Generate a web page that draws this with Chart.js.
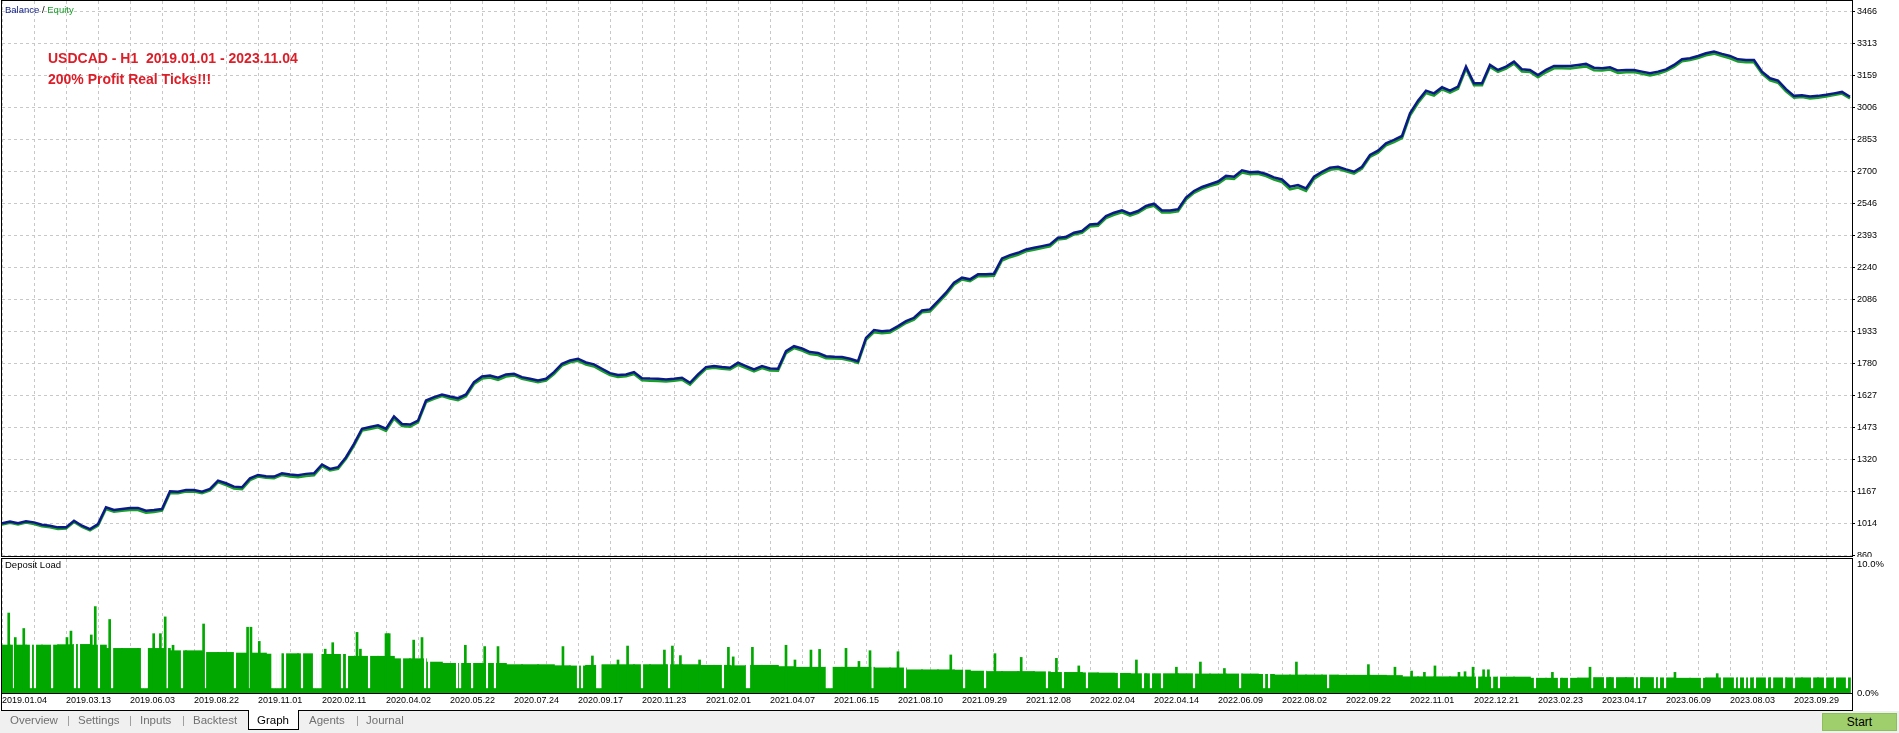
<!DOCTYPE html>
<html>
<head>
<meta charset="utf-8">
<script src="https://cdn.jsdelivr.net/npm/chart.js@4.4.0/dist/chart.umd.min.js"></script>
<style>
body { margin:0; width:1899px; height:733px; overflow:hidden; background:#f0f0f0; position:relative;
       font-family:"Liberation Sans", Arial, sans-serif; }
#plot { position:absolute; left:0; top:0; width:1899px; height:711px; background:#fff; }
#balanceChart { position:absolute; left:0; top:0; }
#loadChart { position:absolute; left:0; top:557px; }
.txt { position:absolute; white-space:nowrap; }
#legend { left:5px; top:4px; font-size:9.5px; line-height:12px; }
#title { left:48px; top:48px; font-size:14px; line-height:21px; font-weight:bold; color:#dc1e28; }
#loadName { left:5px; top:559px; font-size:9.5px; line-height:12px; color:#000; }
.tab { position:absolute; top:712px; font-size:11.5px; line-height:16px; color:#707070; }
.sep { position:absolute; top:712px; font-size:11.5px; line-height:16px; color:#9a9a9a; }
#graphTab { position:absolute; left:248px; top:710px; width:49px; height:19px; background:#fff;
            border:1px solid #000; border-top:none; }
#start { position:absolute; left:1822px; top:713px; width:73px; height:16px; background:#9fcf6c;
         border:1px solid #8cbf5a; font-size:12px; line-height:16px; text-align:center; color:#000; }
</style>
</head>
<body>
<div id="plot">
  <canvas id="balanceChart" width="1899" height="557"></canvas>
  <canvas id="loadChart" width="1899" height="154"></canvas>
  <div class="txt" id="legend"><span style="color:#0b1a86">Balance</span> / <span style="color:#1a9e2a">Equity</span></div>
  <div class="txt" id="title">USDCAD - H1&nbsp; 2019.01.01 - 2023.11.04<br>200% Profit Real Ticks!!!</div>
  <div class="txt" id="loadName">Deposit Load</div>
</div>
<div id="graphTab"></div>
<span class="tab" style="left:10px">Overview</span>
<span class="sep" style="left:67px">|</span>
<span class="tab" style="left:78px">Settings</span>
<span class="sep" style="left:129px">|</span>
<span class="tab" style="left:140px">Inputs</span>
<span class="sep" style="left:182px">|</span>
<span class="tab" style="left:193px">Backtest</span>
<span class="tab" style="left:257px;color:#000">Graph</span>
<span class="tab" style="left:309px">Agents</span>
<span class="sep" style="left:356px">|</span>
<span class="tab" style="left:366px">Journal</span>
<div id="start">Start</div>

<script>
// x axis date labels (one every 4 steps)
var dateLabels = ['2019.01.04','2019.03.13','2019.06.03','2019.08.22','2019.11.01','2020.02.11',
    '2020.04.02','2020.05.22','2020.07.24','2020.09.17','2020.11.23','2021.02.01','2021.04.07',
    '2021.06.15','2021.08.10','2021.09.29','2021.12.08','2022.02.04','2022.04.14','2022.06.09',
    '2022.08.02','2022.09.22','2022.11.01','2022.12.21','2023.02.23','2023.04.17','2023.06.09',
    '2023.08.03','2023.09.29'];

// right axis values of the balance panel
var balanceTicks = [860, 1014, 1167, 1320, 1473, 1627, 1780, 1933, 2086, 2240, 2393, 2546,
    2700, 2853, 3006, 3159, 3313, 3466];

// deposit load axis (percent)
var loadTicks = [0, 10];

// balance, every half step
var balance = [1016, 1024, 1016, 1025, 1020, 1009, 1004, 996, 996, 1028,
    1004, 988, 1012, 1092, 1079, 1084, 1089, 1089, 1076, 1079,
    1084, 1169, 1167, 1175, 1175, 1167, 1180, 1220, 1207, 1191,
    1188, 1231, 1247, 1241, 1239, 1255, 1249, 1246, 1252, 1255,
    1297, 1276, 1284, 1332, 1396, 1468, 1476, 1484, 1468, 1527,
    1491, 1488, 1507, 1603, 1619, 1632, 1622, 1614, 1632, 1691,
    1718, 1723, 1712, 1728, 1731, 1715, 1707, 1699, 1707, 1739,
    1779, 1795, 1803, 1785, 1776, 1755, 1734, 1725, 1728, 1739,
    1710, 1708, 1707, 1704, 1707, 1712, 1688, 1728, 1763, 1768,
    1763, 1760, 1784, 1768, 1752, 1768, 1756, 1755, 1839, 1863,
    1852, 1835, 1831, 1815, 1812, 1811, 1803, 1791, 1903, 1940,
    1935, 1938, 1959, 1983, 1999, 2034, 2039, 2079, 2119, 2167,
    2191, 2183, 2207, 2207, 2210, 2283, 2299, 2310, 2326, 2334,
    2342, 2350, 2382, 2386, 2406, 2414, 2446, 2449, 2486, 2502,
    2513, 2497, 2510, 2534, 2545, 2513, 2513, 2518, 2574, 2606,
    2625, 2638, 2651, 2678, 2674, 2705, 2696, 2698, 2687, 2671,
    2661, 2626, 2634, 2618, 2674, 2698, 2717, 2722, 2709, 2698,
    2722, 2778, 2799, 2834, 2850, 2869, 2978, 3038, 3086, 3073,
    3102, 3086, 3105, 3201, 3121, 3121, 3209, 3185, 3201, 3225,
    3188, 3185, 3161, 3185, 3204, 3204, 3204, 3209, 3214, 3196,
    3193, 3198, 3182, 3185, 3185, 3177, 3169, 3177, 3188, 3209,
    3236, 3241, 3252, 3265, 3273, 3262, 3252, 3236, 3233, 3233,
    3177, 3145, 3134, 3093, 3061, 3064, 3058, 3061, 3066, 3073,
    3080, 3057];

// how far equity sits under balance, one value per grid column
var equityLag = [6, 8, 6, 8, 10, 8, 7, 9, 8, 10, 8, 9, 10, 8, 9, 10, 8, 9, 10, 9,
    10, 9, 8, 10, 9, 10, 8, 10, 9, 10, 9, 10, 9, 8, 10, 9, 10, 9, 11, 10,
    12, 10, 9, 10, 11, 10, 9, 10, 11, 12, 11, 10, 9, 10, 11, 10, 9, 8];

// deposit load base level per step (%)
var loadBase = [3.72, 3.72, 3.72, 3.72, 3.75, 3.77, 3.72, 3.46, 3.46, 3.46,
    3.46, 3.28, 3.28, 3.15, 3.15, 3.1, 3.1, 3.02, 3.05, 3.05,
    3.0, 3.0, 2.85, 2.85, 2.85, 2.66, 2.66, 2.4, 2.3, 2.3,
    2.3, 2.3, 2.2, 2.2, 2.2, 2.12, 2.1, 2.15, 2.2, 2.2,
    2.2, 2.2, 2.2, 2.2, 2.15, 2.15, 2.12, 2.15, 2.15, 2.05,
    2.0, 2.0, 2.0, 2.0, 2.0, 1.95, 1.95, 1.8, 1.8, 1.8,
    1.78, 1.7, 1.67, 1.67, 1.67, 1.65, 1.6, 1.6, 1.57, 1.55,
    1.53, 1.5, 1.5, 1.5, 1.5, 1.48, 1.48, 1.48, 1.48, 1.45,
    1.4, 1.4, 1.4, 1.4, 1.38, 1.38, 1.38, 1.36, 1.26, 1.26,
    1.26, 1.26, 1.25, 1.24, 1.24, 1.24, 1.15, 1.15, 1.15, 1.17,
    1.2, 1.2, 1.2, 1.2, 1.18, 1.15, 1.15, 1.18, 1.18, 1.18,
    1.18, 1.18, 1.18, 1.18, 1.18, 1.18];

// single spikes of the deposit load: [step, %]
var loadPeaks = [[0.42, 6.2], [0.83, 4.3], [1.36, 5.0], [4.06, 4.3], [4.31, 4.8], [5.58, 4.5],
    [5.83, 6.7], [6.73, 5.7], [9.48, 4.6], [9.9, 4.6], [10.2, 5.9], [10.69, 3.7], [12.6, 5.35],
    [15.35, 5.1], [15.56, 5.1], [16.08, 4.0], [20.2, 3.4], [20.67, 3.9], [22.19, 4.7], [22.4, 3.4],
    [24.0, 4.6], [24.1, 4.6], [24.2, 4.6], [25.73, 4.1], [26.25, 4.3], [28.96, 3.7], [30.17, 3.6],
    [31.0, 3.6], [35.06, 3.6], [36.9, 2.87], [38.5, 2.56], [39.1, 3.64], [41.4, 3.33], [41.9, 3.64],
    [42.4, 2.9], [43.6, 2.56], [45.4, 3.54], [45.7, 2.8], [46.9, 3.54], [49.0, 3.7], [49.56, 2.56],
    [50.56, 3.33], [51.1, 3.38], [52.75, 3.46], [53.56, 2.45], [54.25, 3.28], [56.0, 3.2],
    [59.3, 2.95], [62.06, 3.05], [63.7, 2.76], [65.9, 2.69], [67.3, 2.1], [70.9, 2.56], [73.4, 2.0],
    [74.9, 2.4], [76.4, 1.9], [80.9, 2.4], [85.4, 2.2], [87.06, 2.0], [88.1, 1.7], [88.9, 1.6],
    [89.56, 2.1], [91.06, 1.6], [91.44, 1.65], [91.94, 2.0], [92.6, 1.8], [92.9, 1.8], [96.9, 1.6],
    [99.25, 2.0], [104.56, 1.6], [107.2, 1.5]];

// steps where no position was open
var loadGaps = [0.75, 1.81, 2.06, 3.13, 4.56, 4.81, 6.06, 6.88, 8.75, 8.85, 8.95, 9.05, 10.31,
    11.25, 12.69, 14.56, 15.44, 16.9, 17.0, 17.1, 17.2, 17.3, 17.4, 17.69, 18.75, 19.5, 19.6,
    19.7, 19.8, 19.9, 21.25, 21.56, 22.94, 25.0, 26.44, 26.69, 28.44, 28.63, 29.38, 30.31, 30.81,
    36.0, 36.25, 37.2, 37.3, 37.4, 40.0, 41.69, 45.06, 46.56, 46.69, 51.55, 51.65, 51.75, 51.85,
    54.4, 56.44, 60.13, 61.44, 65.31, 66.31, 67.81, 69.81, 71.31, 71.81, 72.5, 74.5, 77.38,
    78.88, 79.19, 82.88, 92.19, 93.13, 93.56, 95.81, 97.31, 97.94, 99.38, 100.19, 100.81, 102.06,
    102.31, 103.31, 103.56, 103.94, 106.25, 107.5, 108.31, 108.56, 108.94, 109.19, 109.56,
    110.31, 110.63, 111.38, 112.0, 113.13, 113.94, 114.56, 115.31];

var X_MAX = 115.625;
var GRID = '#c8c8c8';

Chart.defaults.font.family = "'Liberation Sans', Arial, sans-serif";
Chart.defaults.color = '#000';

// draws the black frame round a panel
var framePlugin = {
    id: 'frame',
    afterDraw: function(chart, args, opts) {
        var ctx = chart.ctx;
        ctx.save();
        ctx.strokeStyle = '#000';
        ctx.lineWidth = 1;
        ctx.strokeRect(1.5, opts.top + 0.5, 1851, opts.bottom - opts.top);
        if (opts.base) {
            var y = Math.round(chart.chartArea.bottom) + 0.5;
            ctx.beginPath();
            ctx.moveTo(1, y);
            ctx.lineTo(1853, y);
            ctx.stroke();
        }
        ctx.restore();
    }
};

function stepTicks(scale) {
    scale.ticks = [];
    for (var v = 0; v <= 114; v += 2) {
        scale.ticks.push({value: v});
    }
}

function rightAxisFit(scale) {
    scale.width = 47;
    scale.paddingTop = 0;
    scale.paddingBottom = 0;
}

var balancePoints = balance.map(function(v, j) { return {x: j / 2, y: v}; });
var equityPoints = balance.map(function(v, j) {
    return {x: j / 2, y: v - equityLag[Math.min(Math.floor(j / 4), equityLag.length - 1)]};
});

// balance / equity panel
new Chart(document.getElementById('balanceChart'), {
    type: 'line',
    data: {
        datasets: [
        {
            label: 'Balance',
            data: balancePoints,
            borderColor: '#0b1a86',
            borderWidth: 2.5,
            pointRadius: 0,
            tension: 0
        },
        {
            label: 'Equity',
            data: equityPoints,
            borderColor: '#1a9e2a',
            borderWidth: 2.5,
            pointRadius: 0,
            tension: 0
        }]
    },
    options: {
        responsive: false,
        animation: false,
        layout: {padding: {top: 1, left: 2, right: 0, bottom: 1}},
        plugins: {
            legend: {display: false},
            tooltip: {enabled: false},
            frame: {top: 0, bottom: 556}
        },
        scales: {
            x: {
                type: 'linear',
                min: 0,
                max: X_MAX,
                afterBuildTicks: stepTicks,
                afterFit: function(scale) { scale.height = 0; scale.paddingLeft = 0; scale.paddingRight = 0; },
                ticks: {display: false},
                grid: {color: GRID, drawTicks: false},
                border: {display: false, dash: [3, 3]}
            },
            y: {
                position: 'right',
                min: 859,
                max: 3515,
                afterBuildTicks: function(scale) {
                    scale.ticks = balanceTicks.map(function(v) { return {value: v}; });
                },
                afterFit: rightAxisFit,
                ticks: {
                    font: {size: 9},
                    padding: 2,
                    callback: function(v) { return String(v); }
                },
                grid: {color: GRID, drawTicks: true, tickLength: 3, tickColor: '#000', tickBorderDash: []},
                border: {display: false, dash: [3, 3]}
            }
        }
    },
    plugins: [framePlugin]
});

// deposit load panel
new Chart(document.getElementById('loadChart'), {
    type: 'bar',
    data: {
        datasets: [
        {
            label: 'Peaks',
            data: loadPeaks.map(function(p) { return {x: p[0], y: p[1]}; }),
            backgroundColor: '#00a800',
            barThickness: 2,
            grouped: false
        },
        {
            label: 'Idle',
            data: loadGaps.map(function(k) {
                return {x: k, y: [0.4, loadBase[Math.min(Math.round(k), loadBase.length - 1)] + 0.15]};
            }),
            backgroundColor: '#ffffff',
            barThickness: 1.5,
            grouped: false
        },
        {
            label: 'Deposit Load',
            data: loadBase.map(function(v, i) { return {x: i, y: v}; }),
            backgroundColor: '#00a800',
            barThickness: 17,
            grouped: false
        }]
    },
    options: {
        responsive: false,
        animation: false,
        layout: {padding: {top: 2, left: 2, right: 0, bottom: 0}},
        plugins: {
            legend: {display: false},
            tooltip: {enabled: false},
            frame: {top: 1, bottom: 153, base: true}
        },
        scales: {
            x: {
                type: 'linear',
                min: 0,
                max: X_MAX,
                offset: false,
                afterBuildTicks: stepTicks,
                afterFit: function(scale) { scale.height = 18; scale.paddingLeft = 0; scale.paddingRight = 0; },
                ticks: {
                    font: {size: 9},
                    padding: 2,
                    align: 'start',
                    autoSkip: false,
                    maxRotation: 0,
                    callback: function(v) { return v % 4 === 0 ? dateLabels[v / 4] : ''; }
                },
                grid: {color: GRID, drawTicks: false, offset: false},
                border: {display: false, dash: [3, 3]}
            },
            y: {
                position: 'right',
                min: 0,
                max: 10.39,
                afterBuildTicks: function(scale) {
                    scale.ticks = loadTicks.map(function(v) { return {value: v}; });
                },
                afterFit: rightAxisFit,
                ticks: {
                    font: {size: 9.5},
                    padding: 2,
                    callback: function(v) { return v.toFixed(1) + '%'; }
                },
                grid: {display: false, drawTicks: true, tickLength: 3},
                border: {display: false}
            }
        }
    },
    plugins: [framePlugin]
});
</script>
</body>
</html>
